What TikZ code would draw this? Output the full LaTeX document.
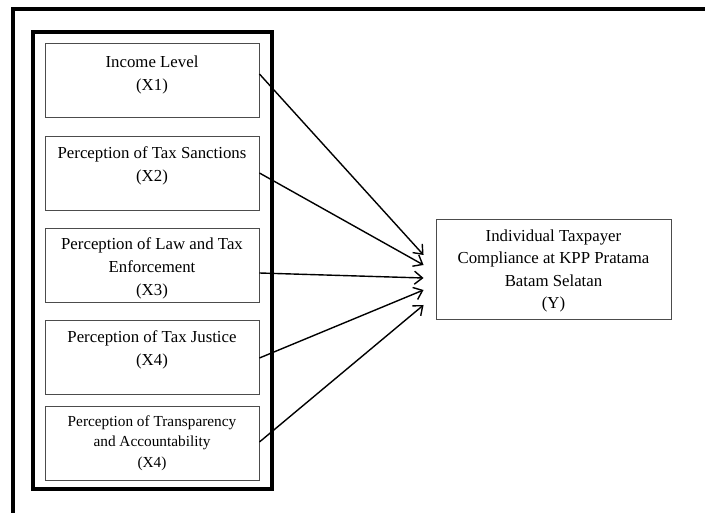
\documentclass[tikz,border=0pt]{standalone}
\usepackage{fontspec}
\setmainfont{Liberation Serif}
\usetikzlibrary{arrows.meta,calc,positioning}

\tikzset{
  frame/.style={line width=4pt},
  varbox/.style={draw=black!70, line width=0.9pt, minimum width=214pt, minimum height=74pt, inner sep=0pt},
  vartext/.style={align=center, inner sep=0pt, font=\fontsize{16.8}{23}\selectfont},
  smalltext/.style={align=center, inner sep=0pt, font=\fontsize{15.3}{20.5}\selectfont},
  outbox/.style={draw=black!70, line width=0.9pt, minimum width=235pt, minimum height=100pt, inner sep=0pt},
  outtext/.style={align=center, inner sep=0pt, font=\fontsize{16.8}{22.3}\selectfont},
  link/.style={line width=1.4pt, -{Straight Barb[length=8pt,width=13pt]}}
}

\begin{document}
\begin{tikzpicture}[x=1pt, y=-1pt]
    \useasboundingbox (0,0) rectangle (705,513);

    % Outer frame (runs off the page to the right and bottom)
    \draw[frame] (705,9) -- (13,9) -- (13,513);

    % Frame round the independent variables
    \draw[frame] (33,32) rectangle (272,489);

    % Independent variable boxes
    \foreach \n/\y in {1/80, 2/173, 3/265.5, 4/357, 5/443} {
        \node[varbox] (x\n) at (152,\y) {};
    }

    \node[vartext] (t1) at ($(x1.center)+(0,-5.5)$) {Income Level\\(X1)};
    \node[vartext] (t2) at ($(x2.center)+(0,-7.5)$) {Perception of Tax Sanctions\\(X2)};
    \node[vartext] (t3) at ($(x3.center)+(0,3)$) {Perception of Law and Tax\\Enforcement\\(X3)};
    \node[vartext] (t4) at ($(x4.center)+(0,-7.5)$) {Perception of Tax Justice\\(X4)};
    \node[smalltext] (t5) at ($(x5.center)+(0,0)$) {Perception of Transparency\\and Accountability\\(X4)};

    % Dependent variable
    \node[outbox] (y) at (553.5,269) {};
    \node[outtext] (ty) at ($(y.center)+(0,2)$) {Individual Taxpayer\\Compliance at KPP Pratama\\Batam Selatan\\(Y)};

    % Arrows into the dependent variable
    \foreach \n/\s/\e in {1/-6/-14, 2/0/-4, 3/7.5/9, 4/1/21, 5/-1/36} {
        \coordinate (in\n) at ($(y.west)+(-12,\e)$);
        \draw[link] ($(x\n.east)+(0,\s)$) -- (in\n);
    }
\end{tikzpicture}
\end{document}
